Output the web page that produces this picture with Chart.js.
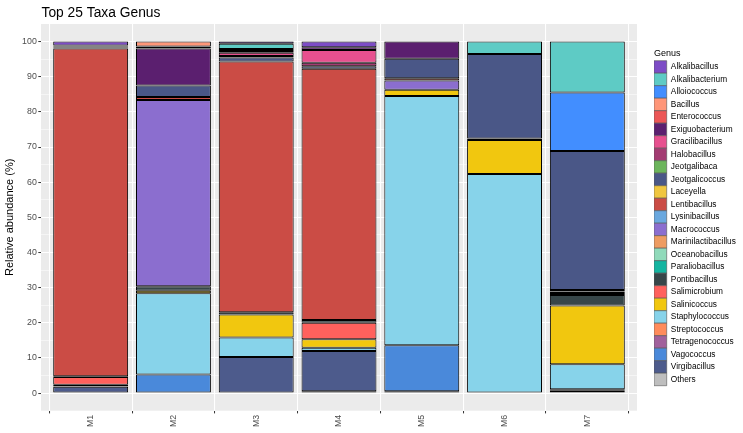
<!DOCTYPE html>
<html><head><meta charset="utf-8">
<script src="https://cdn.jsdelivr.net/npm/chart.js@4/dist/chart.umd.min.js"></script>
<style>html,body{margin:0;padding:0;background:#fff;}</style>
</head><body>
<canvas id="c" width="743" height="433"></canvas>
<script>
const categories = ['M1','M2','M3','M4','M5','M6','M7'];
const genera = ['Alkalibacillus','Alkalibacterium','Alloiococcus','Bacillus','Enterococcus','Exiguobacterium',
  'Gracilibacillus','Halobacillus','Jeotgalibaca','Jeotgalicoccus','Laceyella','Lentibacillus','Lysinibacillus',
  'Macrococcus','Marinilactibacillus','Oceanobacillus','Paraliobacillus','Pontibacillus','Salimicrobium',
  'Salinicoccus','Staphylococcus','Streptococcus','Tetragenococcus','Vagococcus','Virgibacillus','Others'];
// relative abundance (%) per sample, in the order of `genera`
const M1 = [1.1,0,0,0,0,0.3,0,0.3,0,0.3,0,93.2,0,0,0,0,0,0.2,2.2,0.5,0.1,0,0,0,1.6,0.2];
const M2 = [0,0,0,1.4,0.6,10.5,0,0,0,3.3,0,0.8,0,53.0,0,0,0,1.3,0,0.7,23.1,0,0,5.1,0,0.2];
const M3 = [0.6,1.5,0.6,0,0,0.5,0.9,0.4,0,1.2,0,71.3,0,0,0,0,0,0.6,0,6.6,5.5,0,0,0,10.1,0.2];
const M4 = [1.6,0,0,0,0,0.8,3.6,1.0,0,0.7,0,71.5,0,0,0,0,0,0.8,4.7,2.4,0.9,0,0,0,11.5,0.5];
const M5 = [0,0,0,0,0,4.9,0,0,0,5.5,0,0.7,0,2.6,0,0,0,0,0,1.8,70.9,0,0,13.1,0,0.5];
const M6 = [0,3.5,0,0,0,0,0,0,0,24.1,0.4,0,0,0,0,0,0,0,0,9.7,62.1,0,0,0,0,0.2];
const M7 = [0,14.5,16.6,0,0,0,0,0,0,39.6,0.4,0.4,0,0,0.6,0,0,3.0,0,16.7,7.1,0.4,0,0,0.4,0.3];
const samples = [M1,M2,M3,M4,M5,M6,M7];
const yTicks = [0,10,20,30,40,50,60,70,80,90,100];
const yMinor = [5,15,25,35,45,55,65,75,85,95];

const genusColors = ['#7D4CC6','#5ECBC5','#428EFF','#FF9678','#EC5656','#5B1F6F','#E7508F','#A33B72',
  '#6CB55C','#4A5787','#F0C640','#CB4C45','#6AA8DF','#8B6ECF','#EE9C62','#90DABA','#14B5A1','#374649',
  '#FF615D','#F1C70F','#87D3EA','#FF8C5C','#A1619C','#4A89DA','#4D5B8C','#BEBEBE'];

const FONT = '"Liberation Sans", Arial, Helvetica, sans-serif';

const datasets = genera.map((g, gi) => ({
  label: g,
  data: samples.map((s, si) => ({x: si + 1, y: s[gi]})),
  backgroundColor: genusColors[gi],
  borderColor: '#000000',
  borderWidth: 1,
  borderSkipped: false,
  categoryPercentage: 1,
  barPercentage: 0.905
})).reverse();

const panelBg = {
  id: 'panelBg',
  beforeDraw(chart) {
    const a = chart.chartArea, ctx = chart.ctx;
    ctx.save(); ctx.fillStyle = '#EBEBEB';
    ctx.fillRect(a.left, a.top, a.right - a.left, a.bottom - a.top);
    ctx.restore();
  },
  afterDraw(chart) {
    const a = chart.chartArea, ctx = chart.ctx;
    ctx.save(); ctx.fillStyle = '#000'; ctx.font = '13.8px ' + FONT;
    ctx.textAlign = 'left'; ctx.textBaseline = 'alphabetic';
    ctx.fillText('Top 25 Taxa Genus', a.left + 0.5, 16.5);
    ctx.restore();
  }
};

new Chart(document.getElementById('c'), {
  type: 'bar',
  data: { datasets },
  plugins: [panelBg],
  options: {
    responsive: false,
    animation: false,
    layout: { padding: { top: 24, left: 0, right: 3, bottom: 0 } },
    plugins: {
      tooltip: { enabled: false },
      title: { display: false },
      legend: {
        position: 'right', align: 'start', reverse: true, maxWidth: 86,
        title: { display: true, position: 'start', text: 'Genus', color: '#000', font: { family: FONT, size: 9 }, padding: { top: 25.5, bottom: 0.4 } },
        labels: {
          boxWidth: 12.7, boxHeight: 12.5, padding: 0, color: '#000',
          font: { family: FONT, size: 8.3 },
          generateLabels(chart) {
            const items = Chart.defaults.plugins.legend.labels.generateLabels(chart);
            items.forEach(it => { it.strokeStyle = '#555'; it.lineWidth = 0.6; });
            return items;
          }
        }
      }
    },
    scales: {
      x: {
        type: 'linear', stacked: true, min: 0.4, max: 7.6, offset: false,
        afterBuildTicks(s) { s.ticks = categories.map((c, i) => ({ value: i + 1 })); },
        afterFit(s) { s.height = 22.3; },
        grid: { color: '#FFFFFF', lineWidth: 1.07, tickLength: 2.7, tickColor: '#333333', tickWidth: 1 },
        border: { display: false },
        ticks: {
          autoSkip: false, maxRotation: 90, minRotation: 90, padding: 1.5, color: '#4D4D4D',
          font: { family: FONT, size: 8.8 },
          callback: v => categories[Math.round(v) - 1] || ''
        }
      },
      y: {
        type: 'linear', stacked: true, min: -5, max: 105,
        afterBuildTicks(s) { s.ticks = yTicks.concat(yMinor).sort((a,b)=>a-b).map(v => ({ value: v })); },
        afterFit(s) { s.width = 41; },
        grid: {
          color: '#FFFFFF',
          lineWidth: c => (c.tick && c.tick.value % 10 === 0) ? 1.07 : 0.53,
          tickLength: 2.7,
          tickColor: c => (c.tick && c.tick.value % 10 === 0) ? '#333333' : 'rgba(0,0,0,0)',
          tickWidth: 1
        },
        border: { display: false },
        title: { display: true, text: 'Relative abundance (%)', color: '#000', font: { family: FONT, size: 11 }, padding: { top: 3.4, bottom: 0 } },
        ticks: {
          autoSkip: false, padding: 1.5, color: '#4D4D4D', font: { family: FONT, size: 8.8 },
          callback: v => (v % 10 === 0 ? String(v) : '')
        }
      },
      gap: {
        type: 'linear', position: 'right', display: true,
        grid: { display: false, drawTicks: false }, border: { display: false },
        ticks: { display: false },
        afterFit(s) { s.width = 17; }
      }
    }
  }
});
</script>
</body></html>
